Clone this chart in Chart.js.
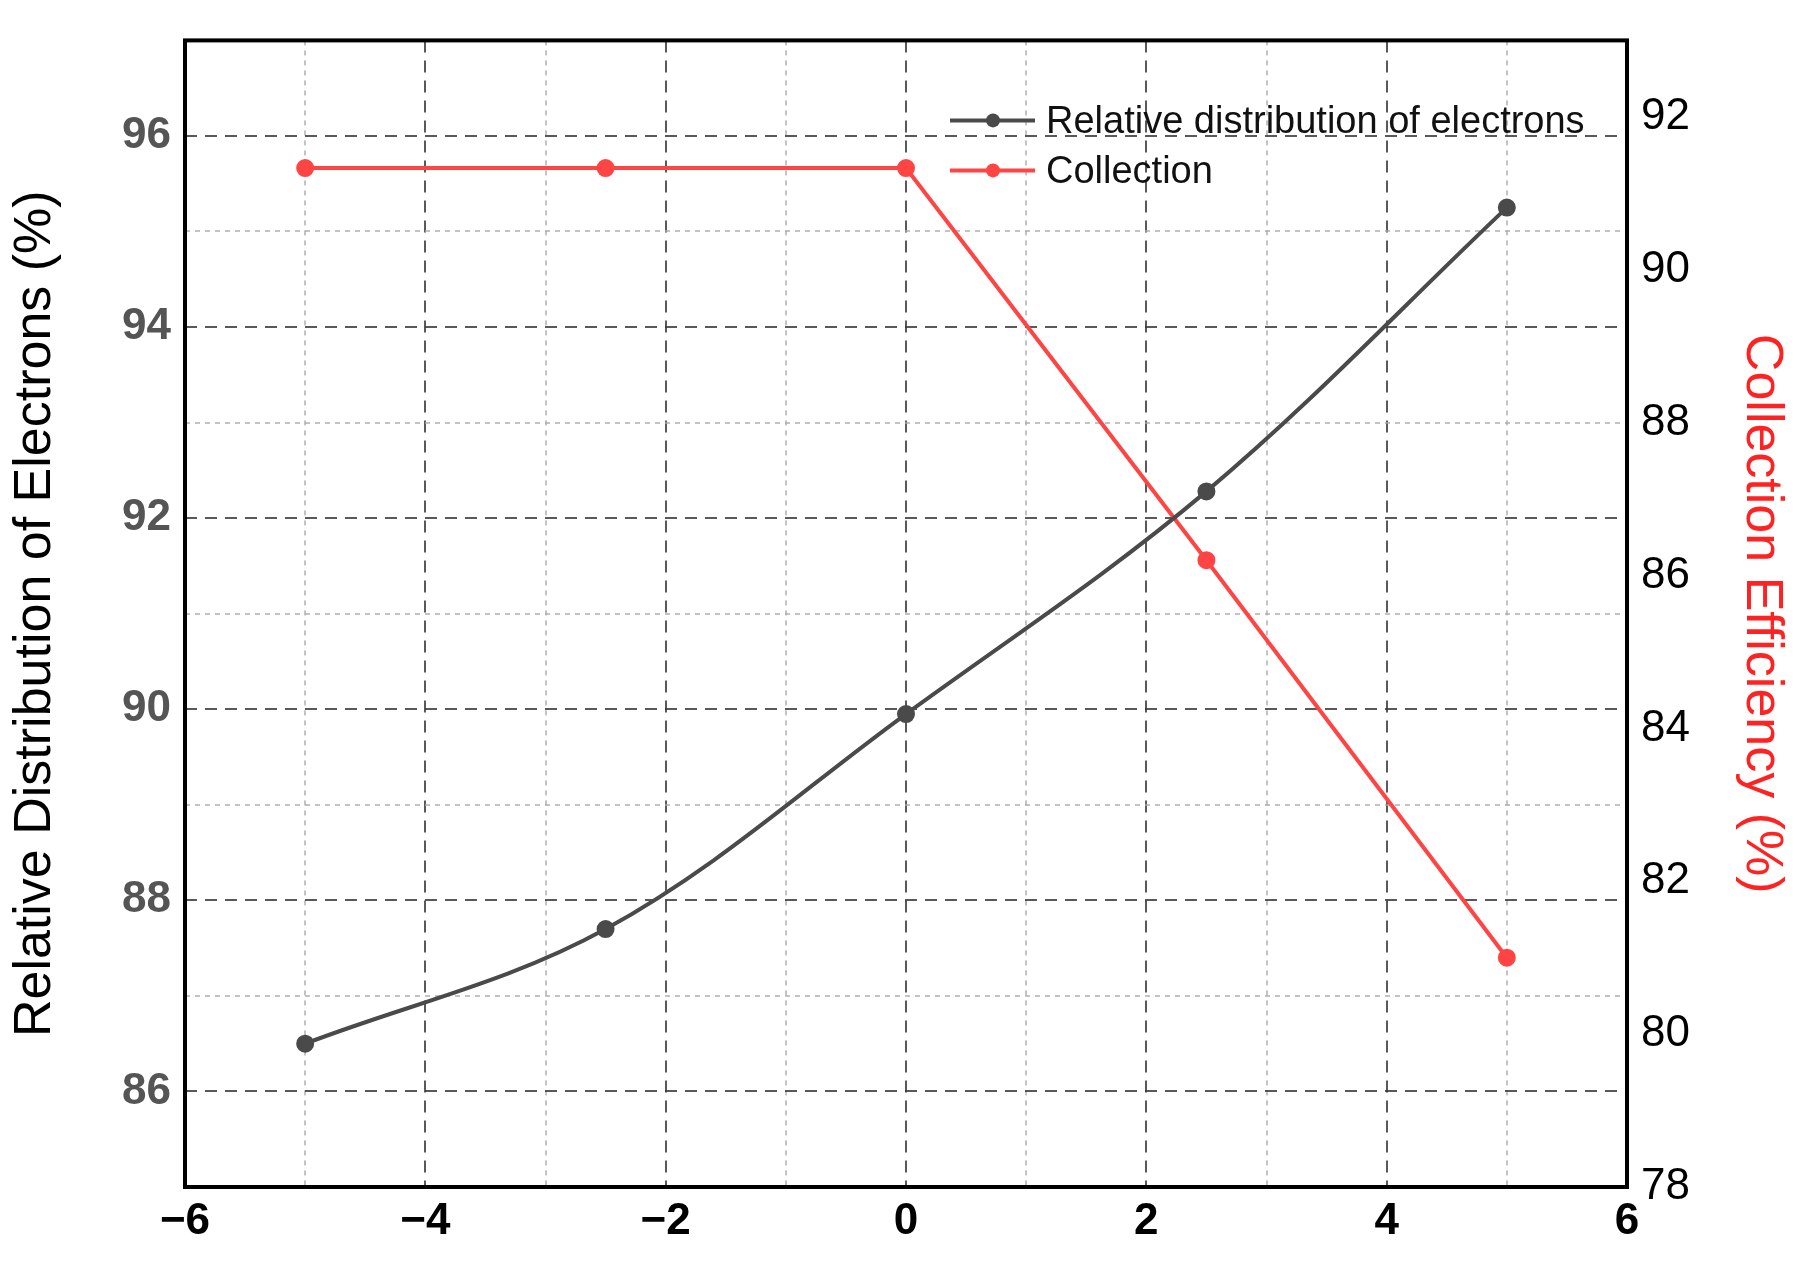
<!DOCTYPE html>
<html>
<head>
<meta charset="utf-8">
<script src="https://cdn.jsdelivr.net/npm/chart.js@4"></script>
<style>
  html, body { margin: 0; padding: 0; background: #fff; }
  #wrap { width: 1797px; height: 1279px; }
</style>
</head>
<body>
<div id="wrap"><canvas id="chart"></canvas></div>
<script>
// Datos
const xValues = [-5, -2.5, 0, 2.5, 5];
const electrons = [86.5, 87.7, 89.95, 92.28, 95.25];
const collection = [91.33, 91.33, 91.33, 86.2, 81.0];
const seriesNames = ["Relative distribution of electrons", "Collection"];

const BLACK = "#4a4a4a";
const RED = "#ff4444";

const gridColor = (ctx) => (Math.round(ctx.tick.value) % 2 === 0 ? "rgba(60,60,60,0.85)" : "rgba(170,170,170,0.7)");
const gridDash = (ctx) => (Math.round(ctx.tick.value) % 2 === 0 ? [12, 8] : [5, 5]);

// Leyenda dibujada a mano (línea + punto)
const legendPlugin = {
  id: "customLegend",
  afterDraw(chart) {
    const c = chart.ctx;
    const area = chart.chartArea;
    const x0 = area.left + 765, y0 = area.top + 80;
    [BLACK, RED].forEach((col, i) => {
      const y = y0 + i * 50;
      c.save();
      c.strokeStyle = col;
      c.lineWidth = 4;
      c.beginPath(); c.moveTo(x0, y); c.lineTo(x0 + 85, y); c.stroke();
      c.fillStyle = col;
      c.beginPath(); c.arc(x0 + 43, y, 7, 0, Math.PI * 2); c.fill();
      c.fillStyle = "#111";
      c.font = "38px Arial, 'Liberation Sans'";
      c.textBaseline = "middle";
      c.fillText(seriesNames[i], x0 + 96, y + 2);
      c.restore();
    });
  }
};

// Marco negro del área
const framePlugin = {
  id: "frame",
  afterDraw(chart) {
    const c = chart.ctx, a = chart.chartArea;
    c.save();
    c.strokeStyle = "#000"; c.lineWidth = 4;
    c.strokeRect(a.left, a.top, a.right - a.left, a.bottom - a.top);
    c.restore();
  }
};

new Chart(document.getElementById("chart").getContext("2d"), {
  type: "line",
  data: {
    datasets: [{
      label: seriesNames[0],
      data: xValues.map((x, i) => ({ x, y: electrons[i] })),
      borderColor: BLACK, backgroundColor: BLACK,
      borderWidth: 4, pointRadius: 7, tension: 0.35,
      yAxisID: "y"
    }, {
      label: seriesNames[1],
      data: xValues.map((x, i) => ({ x, y: collection[i] })),
      borderColor: RED, backgroundColor: RED,
      borderWidth: 4, pointRadius: 7, tension: 0,
      yAxisID: "y2"
    }]
  },
  options: {
    responsive: true,
    maintainAspectRatio: false,
    animation: false,
    layout: { padding: { top: 0, right: 0, bottom: 0, left: 0 } },
    plugins: { legend: { display: false }, tooltip: { enabled: false } },
    scales: {
      x: {
        type: "linear", min: -6, max: 6,
        ticks: {
          stepSize: 1, autoSkip: false, color: "#000",
          font: { size: 44, weight: "bold", family: "Arial, 'Liberation Sans'" },
          callback: (v) => (v % 2 === 0 ? String(v).replace("-", "\u2212") : ""),
          padding: 8
        },
        grid: { color: gridColor, tickLength: 0, lineWidth: 2 },
        border: { display: false, dash: gridDash },
        afterFit: (s) => { s.height = 92; }
      },
      y: {
        position: "left", min: 85, max: 97,
        ticks: {
          stepSize: 1, autoSkip: false, color: "#555",
          font: { size: 44, weight: "bold", family: "Arial, 'Liberation Sans'" },
          callback: (v) => (v % 2 === 0 ? v : ""),
          padding: 14
        },
        grid: { color: gridColor, tickLength: 0, lineWidth: 2 },
        border: { display: false, dash: gridDash },
        title: {
          display: true, text: "Relative Distribution of Electrons (%)", color: "#000",
          font: { size: 52, family: "Arial, 'Liberation Sans'" }, padding: 4
        },
        afterFit: (s) => { s.width = 185; }
      },
      y2: {
        position: "right", min: 78, max: 93,
        ticks: {
          stepSize: 2, color: "#000",
          font: { size: 44, family: "Arial, 'Liberation Sans'" },
          callback: (v) => (v % 2 === 0 ? v : ""),
          padding: 14
        },
        grid: { drawOnChartArea: false, tickLength: 0 },
        border: { display: false },
        title: {
          display: true, text: "Collection Efficiency (%)", color: "#ff2222",
          font: { size: 52, family: "Arial, 'Liberation Sans'" }, padding: 4
        },
        afterFit: (s) => { s.width = 170; }
      }
    }
  },
  plugins: [legendPlugin, framePlugin]
});
</script>
</body>
</html>
